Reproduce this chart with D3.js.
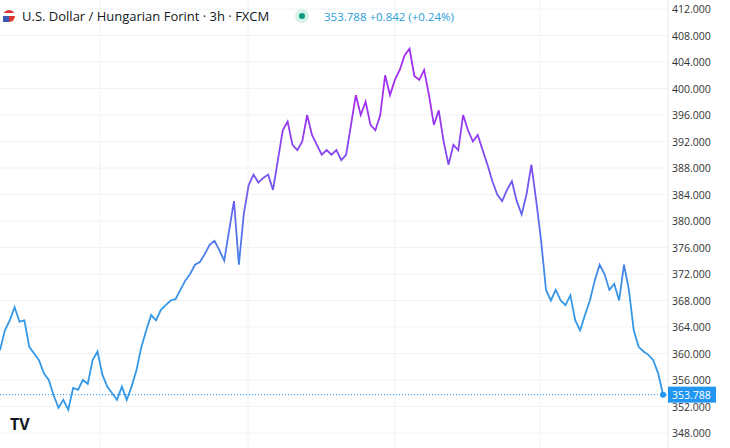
<!DOCTYPE html>
<html><head><meta charset="utf-8">
<script src="https://cdn.jsdelivr.net/npm/d3@7"></script>
<style>body{margin:0;background:#fff;font-family:"Open Sans",sans-serif;}</style>
</head><body><div id="chart"></div>
<script>
const prices = [360.5,363.5,365,367,364.8,365,361,360,359,357,356,353.7,351.8,353,351.5,354.8,354.5,356,355.4,359,
  360.3,356.8,355,354,353,355,353,355,357.5,361,363.5,365.8,365,366.6,367.3,368,368.2,369.6,371,372,
  373.4,373.8,375,376.4,377,375.6,374,378.6,383,373.4,381,385.4,387,385.8,386.5,387,384.7,389.2,393.7,395,
  391.5,390.7,392,396,393,391.5,390,390.7,390,390.7,389.2,390,394.5,399,396,398,394.5,393.7,396,402,
  399,401.3,402.8,405,406,401.9,401.3,402.8,399,394.5,396.7,392,388.5,391.5,390.7,396,393.7,392,393,390.7,
  388.5,386,384,383,384.7,386,383,381,384,388.5,383,377,369.6,368,369.6,368,367.3,368.8,365,363.5,
  365.8,368,371,373.4,372,369.6,370.5,368,373.4,369.6,363.5,361,360.3,359.8,359,357,353.8];
const lastPrice = 353.788;
const yTicks = [348,352,356,360,364,368,372,376,380,384,388,392,396,400,404,408,412];
const title = "U.S. Dollar / Hungarian Forint · 3h · FXCM";

const W = 730, H = 448, plotR = 668;
const svg = d3.select("#chart").append("svg").attr("width", W).attr("height", H);
const x = d3.scaleLinear().domain([0, prices.length - 1]).range([0, 663]);
const y = d3.scaleLinear().domain([348, 412]).range([433, 9]);

// grid
svg.append("g").selectAll("line").data(yTicks).join("line")
  .attr("x1", 0).attr("x2", plotR).attr("y1", d => y(d)).attr("y2", d => y(d))
  .attr("stroke", "#f0f2f5");
svg.append("g").selectAll("line").data([100, 248, 395, 540]).join("line")
  .attr("x1", d => d).attr("x2", d => d).attr("y1", 0).attr("y2", H)
  .attr("stroke", "#f0f2f5");
svg.append("line").attr("x1", plotR).attr("x2", plotR).attr("y1", 0).attr("y2", H).attr("stroke", "#e8e8e8");

// gradient by value
const grad = svg.append("defs").append("linearGradient").attr("id", "g")
  .attr("gradientUnits", "userSpaceOnUse").attr("x1", 0).attr("x2", 0)
  .attr("y1", y(398)).attr("y2", y(368));
grad.append("stop").attr("offset", "0%").attr("stop-color", "#a22ff0");
grad.append("stop").attr("offset", "50%").attr("stop-color", "#6a60ee");
grad.append("stop").attr("offset", "100%").attr("stop-color", "#3498e6");

svg.append("path").datum(prices)
  .attr("d", d3.line().x((d, i) => x(i)).y(d => y(d)))
  .attr("fill", "none").attr("stroke", "url(#g)").attr("stroke-width", 1.8);

// last price line
svg.append("line").attr("x1", 0).attr("x2", plotR).attr("y1", y(lastPrice)).attr("y2", y(lastPrice))
  .attr("stroke", "#2196f3").attr("stroke-dasharray", "1,2");
svg.append("circle").attr("cx", x(prices.length - 1)).attr("cy", y(lastPrice)).attr("r", 3).attr("fill", "#2196f3");

// axis labels
svg.append("g").selectAll("text").data(yTicks).join("text")
  .attr("x", 672).attr("y", d => y(d) + 4).attr("font-size", 10.5).attr("fill", "#333")
  .text(d => d3.format(".3f")(d));
svg.append("rect").attr("x", 668).attr("y", y(lastPrice) - 8).attr("width", 48).attr("height", 16).attr("fill", "#2196f3");
svg.append("text").attr("x", 672).attr("y", y(lastPrice) + 4).attr("font-size", 10.5).attr("fill", "#fff").text(lastPrice.toFixed(3));

// header
svg.append("circle").attr("cx", 9).attr("cy", 16).attr("r", 6).attr("fill", "#d33");
svg.append("rect").attr("x", 3).attr("y", 13).attr("width", 12).attr("height", 3).attr("fill", "#fff");
svg.append("rect").attr("x", 3).attr("y", 16).attr("width", 6).attr("height", 6).attr("fill", "#3a5ab8");
svg.append("text").attr("x", 22).attr("y", 21).attr("font-size", 13).attr("fill", "#131722").text(title);
svg.append("circle").attr("cx", 302).attr("cy", 16).attr("r", 7).attr("fill", "#d6f2ea");
svg.append("circle").attr("cx", 302).attr("cy", 16).attr("r", 3).attr("fill", "#089981");
svg.append("text").attr("x", 324).attr("y", 21).attr("font-size", 11.5).attr("fill", "#2a9dd8")
  .text("353.788  +0.842  (+0.24%)");

// logo
svg.append("text").attr("x", 10).attr("y", 430).attr("font-size", 16).attr("font-weight", "bold")
  .attr("fill", "#131722").text("TV");
</script></body></html>
